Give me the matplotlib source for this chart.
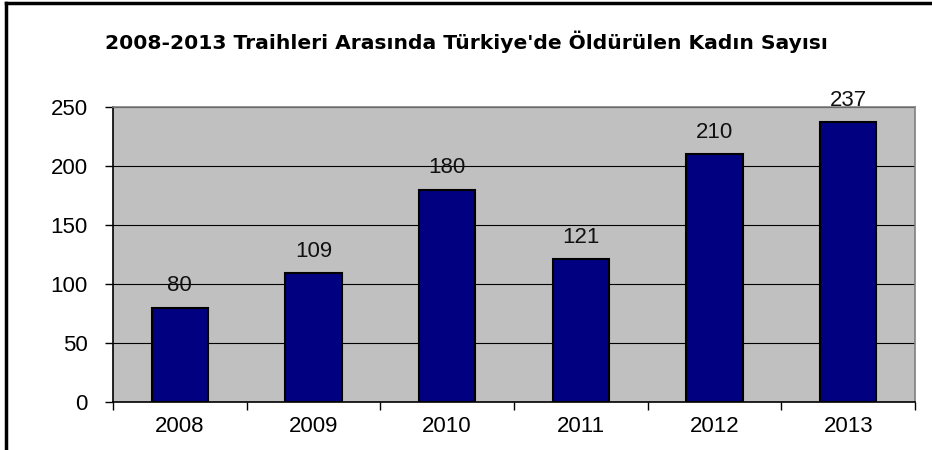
import matplotlib
matplotlib.use("Agg")
import matplotlib.pyplot as plt
from matplotlib.lines import Line2D

years = ["2008", "2009", "2010", "2011", "2012", "2013"]
counts = [80, 109, 180, 121, 210, 237]
yticks = [0, 50, 100, 150, 200, 250]
title = "2008-2013 Traihleri Arasında Türkiye'de Öldürülen Kadın Sayısı"

plt.rcParams["font.family"] = ["Liberation Sans", "DejaVu Sans"]

fig = plt.figure(figsize=(9.32, 4.5), dpi=100)
ax = fig.add_axes([0.1212, 0.1067, 0.8606, 0.6555])
ax.set_facecolor("#c0c0c0")

x = list(range(len(years)))
ax.bar(x, counts, width=0.42, color="#000080", edgecolor="black", linewidth=1.5, zorder=3)

for xi, v in zip(x, counts):
    ax.annotate(str(v), (xi, v), xytext=(0, 8), textcoords="offset points",
                ha="center", va="bottom", fontsize=16, color="#111111", zorder=4)

ax.set_xlim(-0.5, len(years) - 0.5)
ax.set_ylim(0, 250)
ax.set_yticks(yticks)
ax.tick_params(axis="y", labelsize=16, length=6, width=1, direction="out", pad=12)
ax.yaxis.grid(True, color="black", linewidth=0.8, zorder=1)

# category ticks sit on the boundaries, labels in the middle
ax.set_xticks([i - 0.5 for i in range(len(years) + 1)])
ax.set_xticklabels([])
ax.set_xticks(x, minor=True)
ax.set_xticklabels(years, minor=True, fontsize=16)
ax.tick_params(axis="x", which="major", length=6, width=1, direction="out")
ax.tick_params(axis="x", which="minor", length=0, pad=10)

for s in ["left", "bottom"]:
    ax.spines[s].set_color("black")
    ax.spines[s].set_linewidth(1.2)
for s in ["top", "right"]:
    ax.spines[s].set_color("#808080")
    ax.spines[s].set_linewidth(1.2)

fig.text(0.5, 0.907, title, ha="center", va="center", fontsize=14.6,
         fontweight="bold", family=["DejaVu Sans"])

# frame of the chart object (left and top edges visible)
fig.add_artist(Line2D([0.006, 0.006], [0, 0.993], color="black", linewidth=2.5, transform=fig.transFigure))
fig.add_artist(Line2D([0.006, 1], [0.993, 0.993], color="black", linewidth=2.5, transform=fig.transFigure))

fig.savefig("out.png", dpi=100)
